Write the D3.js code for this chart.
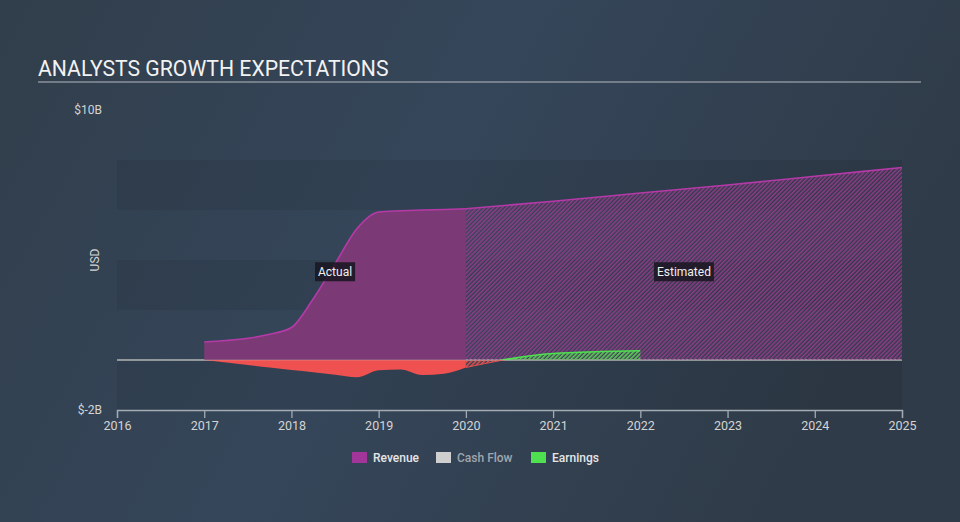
<!DOCTYPE html>
<html>
<head>
<meta charset="utf-8">
<script src="https://cdn.jsdelivr.net/npm/d3@7"></script>
<style>
  html, body { margin: 0; padding: 0; background: #323f4d; }
  svg { display: block; font-family: Roboto, "Noto Sans", sans-serif; }
</style>
</head>
<body>
<svg id="chart" width="960" height="522"></svg>
<script>
// ---- data ----
const xTickYears = [2016, 2017, 2018, 2019, 2020, 2021, 2022, 2023, 2024, 2025];
const yTickValues = [-2, 10];

const revenueActualYears = [2017, 2017.25, 2017.5, 2017.75, 2018, 2018.25, 2018.5, 2018.75, 2019, 2019.25, 2019.5, 2019.75, 2020];
const revenueActual      = [0.72, 0.78, 0.87, 1.03, 1.3, 2.45, 3.85, 5.25, 5.92, 5.97, 6.0, 6.02, 6.05];

const revenueEstYears = [2020, 2021, 2022, 2023, 2024, 2025];
const revenueEst      = [6.05, 6.35, 6.68, 7.0, 7.35, 7.7];

const earningsActualYears = [2017, 2017.25, 2017.5, 2017.75, 2018, 2018.25, 2018.5, 2018.75, 2019, 2019.25, 2019.5, 2019.75, 2020];
const earningsActual      = [0, -0.1, -0.2, -0.3, -0.4, -0.49, -0.59, -0.69, -0.41, -0.38, -0.6, -0.55, -0.3];

const earningsEstYears = [2020, 2021, 2022];
const earningsEst      = [-0.3, 0.26, 0.37];

const legendLabels = ["Revenue", "Cash Flow", "Earnings"];
const legendColors = ["#a2359a", "#cfcfcf", "#4fe04f"];
const legendTextColors = ["#e6e6e6", "#a0a6ad", "#e6e6e6"];

// ---- setup ----
const svg = d3.select("#chart");
const W = 960, H = 522;
const x = d3.scaleLinear().domain([2016, 2025]).range([117, 902]);
const y = d3.scaleLinear().domain([-2, 10]).range([410, 110]);

const defs = svg.append("defs");
const bg = defs.append("linearGradient").attr("id", "bg").attr("x1", "0").attr("y1", "0").attr("x2", "1").attr("y2", "0.3");
bg.append("stop").attr("offset", "0%").attr("stop-color", "#313e4b");
bg.append("stop").attr("offset", "50%").attr("stop-color", "#35465a");
bg.append("stop").attr("offset", "100%").attr("stop-color", "#2f3b48");

function hatch(id, color) {
  const p = defs.append("pattern").attr("id", id)
    .attr("patternUnits", "userSpaceOnUse").attr("width", 3).attr("height", 3)
    .attr("patternTransform", "rotate(45)");
  p.append("rect").attr("width", 1.6).attr("height", 3).attr("fill", color);
}
hatch("hatchPurple", "#8e3c88");
hatch("hatchRed", "#e65050");
hatch("hatchGreen", "#4fd04f");

defs.append("clipPath").attr("id", "abovezero").append("rect")
  .attr("x", 0).attr("y", 0).attr("width", W).attr("height", y(0));
defs.append("clipPath").attr("id", "belowzero").append("rect")
  .attr("x", 0).attr("y", y(0)).attr("width", W).attr("height", H - y(0));

svg.append("rect").attr("width", W).attr("height", H).attr("fill", "url(#bg)");

// Title
svg.append("text").attr("x", 38).attr("y", 76)
  .attr("font-size", 21.2).attr("fill", "#f2f2f2")
  .text("ANALYSTS GROWTH EXPECTATIONS");
svg.append("line").attr("x1", 38).attr("x2", 921).attr("y1", 82).attr("y2", 82)
  .attr("stroke", "#b5bac0").attr("stroke-width", 1.2);

// Bands
const bandStarts = [6, 2, -2];
svg.append("g").selectAll("rect").data(bandStarts).join("rect")
  .attr("x", x(2016)).attr("width", x(2025) - x(2016))
  .attr("y", d => y(d + 2)).attr("height", d => y(d) - y(d + 2))
  .attr("fill", "rgba(0,0,0,0.07)");

// Zero line (under areas)
svg.append("line").attr("x1", x(2016)).attr("x2", x(2025))
  .attr("y1", y(0)).attr("y2", y(0)).attr("stroke", "#d8d8d8").attr("stroke-width", 1.2);

const zip = (xs, vs) => xs.map((t, i) => ({ t, v: vs[i] }));
const rA = zip(revenueActualYears, revenueActual);
const rE = zip(revenueEstYears, revenueEst);
const eA = zip(earningsActualYears, earningsActual);
const eE = zip(earningsEstYears, earningsEst);

const area = d3.area().x(d => x(d.t)).y0(y(0)).y1(d => y(d.v)).curve(d3.curveMonotoneX);
const line = d3.line().x(d => x(d.t)).y(d => y(d.v)).curve(d3.curveMonotoneX);

// Revenue
svg.append("path").datum(rA).attr("d", area).attr("fill", "#7b3a75");
svg.append("path").datum(rE).attr("d", area).attr("fill", "url(#hatchPurple)");
svg.append("path").datum(rA).attr("d", line).attr("fill", "none").attr("stroke", "#b53aa8").attr("stroke-width", 1.6);
svg.append("path").datum(rE).attr("d", line).attr("fill", "none").attr("stroke", "#b53aa8").attr("stroke-width", 1.6);

// Earnings
svg.append("path").datum(eA).attr("d", area).attr("fill", "#ef5050");
svg.append("path").datum(eE).attr("d", area).attr("fill", "url(#hatchRed)").attr("clip-path", "url(#belowzero)");
svg.append("path").datum(eE).attr("d", area).attr("fill", "url(#hatchGreen)").attr("clip-path", "url(#abovezero)");
svg.append("path").datum(eE).attr("d", line).attr("fill", "none").attr("stroke", "#4fe04f").attr("stroke-width", 1.6).attr("clip-path", "url(#abovezero)");
svg.append("path").datum(eE).attr("d", line).attr("fill", "none").attr("stroke", "#e65050").attr("stroke-width", 1).attr("clip-path", "url(#belowzero)");

// Faint zero line on top
svg.append("line").attr("x1", x(2016)).attr("x2", x(2025))
  .attr("y1", y(0)).attr("y2", y(0)).attr("stroke", "rgba(210,210,190,0.35)").attr("stroke-width", 1);

// Actual / Estimated labels
function tag(cx, txt) {
  const g = svg.append("g");
  const t = g.append("text").attr("x", cx).attr("y", y(3.53)).attr("text-anchor", "middle")
    .attr("dominant-baseline", "central").attr("font-size", 12).attr("fill", "#f0f0f0").text(txt);
  const bb = t.node().getBBox();
  g.insert("rect", "text").attr("x", bb.x - 3).attr("y", y(3.53) - 9.5).attr("width", bb.width + 6).attr("height", 19)
    .attr("fill", "rgba(24,22,32,0.85)");
}
tag(x(2018.5), "Actual");
tag(x(2022.5), "Estimated");

// X axis
const xAxis = svg.append("g").attr("transform", `translate(0,${y(-2)})`)
  .call(d3.axisBottom(x).tickValues(xTickYears).tickFormat(d3.format("d")).tickSize(8).tickPadding(3));
xAxis.select(".domain").attr("stroke", "#a3abb4").attr("stroke-width", 1.3);
xAxis.selectAll(".tick line").attr("stroke", "#a3abb4").attr("stroke-width", 1.3);
xAxis.selectAll(".tick text").attr("fill", "#d4d4d4").attr("font-size", 12.5).attr("font-family", "Roboto, sans-serif");

// Y axis labels
const yAxis = svg.append("g").attr("transform", `translate(${x(2016)},0)`)
  .call(d3.axisLeft(y).tickValues(yTickValues).tickFormat(d => "$" + d + "B").tickSize(0).tickPadding(15));
yAxis.select(".domain").remove();
yAxis.selectAll(".tick text").attr("fill", "#d4d4d4").attr("font-size", 12).attr("font-family", "Roboto, sans-serif");

svg.append("text").attr("transform", `translate(99,${y(4)}) rotate(-90)`)
  .attr("text-anchor", "middle").attr("font-size", 12).attr("fill", "#d4d4d4").text("USD");

// Legend
const legendX = [352, 436, 531];
const lg = svg.append("g");
legendLabels.forEach((lab, i) => {
  lg.append("rect").attr("x", legendX[i]).attr("y", 452).attr("width", 15).attr("height", 11).attr("fill", legendColors[i]);
  lg.append("text").attr("x", legendX[i] + 21).attr("y", 458).attr("dominant-baseline", "central")
    .attr("font-size", 12).attr("font-weight", 500).attr("fill", legendTextColors[i]).text(lab);
});
</script>
</body>
</html>
